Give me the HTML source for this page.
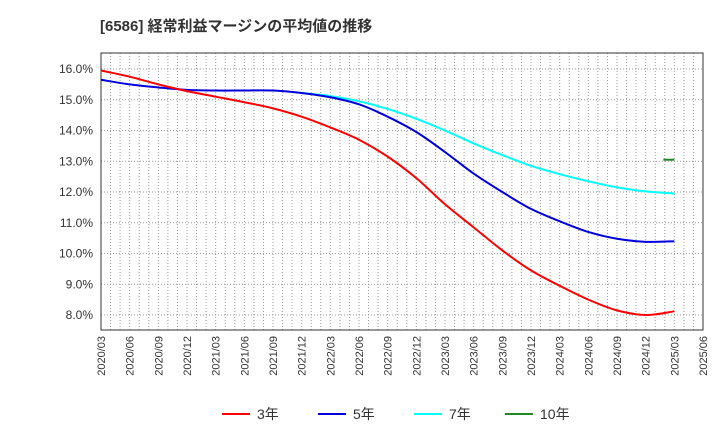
<!DOCTYPE html>
<html><head><meta charset="utf-8"><style>
body{margin:0;background:#fff;font-family:"Liberation Sans","Noto Sans CJK JP",sans-serif;}
</style></head><body>
<svg id="c" width="720" height="440" xmlns="http://www.w3.org/2000/svg">
<text x="100" y="31" font-size="15" font-weight="bold" fill="#333" font-family="Liberation Sans, Noto Sans CJK JP, sans-serif">[6586]  経常利益マージンの平均値の推移</text>
</svg>
<script>
const xLabels=["2020/03","2020/06","2020/09","2020/12","2021/03","2021/06","2021/09","2021/12","2022/03","2022/06","2022/09","2022/12","2023/03","2023/06","2023/09","2023/12","2024/03","2024/06","2024/09","2024/12","2025/03","2025/06"];
const yTicks=[8,9,10,11,12,13,14,15,16];
const s3=[15.95,15.75,15.5,15.28,15.1,14.92,14.72,14.45,14.1,13.7,13.15,12.45,11.6,10.85,10.1,9.45,8.95,8.5,8.15,8.0,8.12];
const s5=[15.65,15.5,15.4,15.32,15.3,15.3,15.3,15.22,15.08,14.85,14.45,13.95,13.3,12.6,12.0,11.45,11.05,10.7,10.48,10.38,10.4];
const s7=[null,null,null,null,null,null,null,15.22,15.12,14.95,14.7,14.38,14.0,13.58,13.2,12.85,12.58,12.35,12.15,12.02,11.95];
const s10=[null,null,null,null,null,null,null,null,null,null,null,null,null,null,null,null,null,null,null,null,13.05];
const svg=document.getElementById('c');const NS='http://www.w3.org/2000/svg';
const L=101,R=703,T=53,B=330;
const xs=i=>L+i*(R-L)/21;
const ys=v=>315-(v-8)*30.75;
function mk(t,a,p){const e=document.createElementNS(NS,t);for(const k in a)e.setAttribute(k,a[k]);(p||svg).appendChild(e);return e;}
for(let m=1;m<63;m++){const x=xs(m/3);
 const g=mk('line',{x1:x,x2:x,y1:T,y2:B,stroke:'#999','stroke-dasharray':'1,2'});
 
 }
xLabels.forEach((l,i)=>{const x=xs(i);
 const t=mk('text',{x:0,y:0,'font-size':11,fill:'#333','text-anchor':'end',transform:`translate(${x+4},${B+6}) rotate(-90)`});t.textContent=l;
 
 });
yTicks.forEach(v=>{const y=ys(v);
 const g=mk('line',{x1:L,x2:R,y1:y,y2:y,stroke:'#999','stroke-dasharray':'1,2'});
 
 
 const t=mk('text',{x:L-8,y:y+4,'font-size':12,fill:'#333','text-anchor':'end'});t.textContent=v.toFixed(1)+'%';
 
 });
const fr=mk('rect',{x:L,y:T,width:R-L,height:B-T,fill:'none',stroke:'#333'});


function line(d,c,n){const pts=[];d.forEach((v,i)=>{if(v!=null)pts.push([xs(i),ys(v)]);});
 let p='M'+pts[0][0]+','+pts[0][1];
 for(let i=0;i<pts.length-1;i++){const p0=pts[Math.max(0,i-1)],p1=pts[i],p2=pts[i+1],p3=pts[Math.min(pts.length-1,i+2)];
  const c1=[p1[0]+(p2[0]-p0[0])/6,p1[1]+(p2[1]-p0[1])/6],c2=[p2[0]-(p3[0]-p1[0])/6,p2[1]-(p3[1]-p1[1])/6];
  p+=`C${c1[0]},${c1[1]} ${c2[0]},${c2[1]} ${p2[0]},${p2[1]}`;}
 const e=mk('path',{d:p,fill:'none',stroke:c,'stroke-width':2});
 
 }
line(s7,'#00ffff','series-7y');line(s5,'#0000dd','series-5y');line(s3,'#ff0000','series-3y');
s10.forEach((v,i)=>{if(v==null)return;const e=mk('line',{x1:xs(i)-11,x2:xs(i),y1:ys(v),y2:ys(v),stroke:'#228822','stroke-width':2});
 
 });
const leg=[['3年','#ff0000',222],['5年','#0000dd',318],['7年','#00ffff',414],['10年','#228822',505]];
leg.forEach(([l,c,x])=>{const g=mk('g',{});
 
 
 mk('line',{x1:x,x2:x+28,y1:414,y2:414,stroke:c,'stroke-width':2},g);
 const t=mk('text',{x:x+35,y:419,'font-size':14,fill:'#333'},g);t.textContent=l;});
</script>
</body></html>
